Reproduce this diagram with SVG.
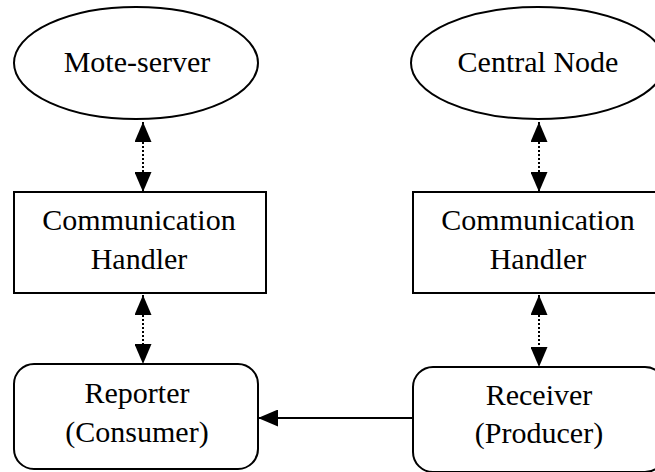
<svg xmlns="http://www.w3.org/2000/svg" width="655" height="472" viewBox="0 0 655 472">
<defs>
<marker id="ah" markerWidth="20" markerHeight="17" refX="20" refY="8.5" orient="auto" markerUnits="userSpaceOnUse">
<path d="M0,0 L20,8.5 L0,17 Z" fill="#000"/>
</marker>
<marker id="ahs" markerWidth="20" markerHeight="17" refX="20" refY="8.5" orient="auto-start-reverse" markerUnits="userSpaceOnUse">
<path d="M0,0 L20,8.5 L0,17 Z" fill="#000"/>
</marker>
</defs>
<rect width="655" height="472" fill="#fff"/>
<g fill="#fff" stroke="#000" stroke-width="2">
<g id="mote-server"><ellipse cx="136" cy="63" rx="122" ry="56"/></g>
<g id="central-node"><ellipse cx="538" cy="63" rx="127" ry="56"/></g>
<g id="comm-handler-left"><rect x="14" y="192" width="252" height="101"/></g>
<g id="comm-handler-right"><rect x="413" y="192" width="252" height="101"/></g>
<g id="reporter"><rect x="14" y="364" width="244" height="105" rx="20" ry="20"/></g>
<g id="receiver"><rect x="413" y="367" width="252" height="105" rx="20" ry="20"/></g>
</g>
<text x="137" y="72" font-size="30" font-family="Liberation Serif" text-anchor="middle">Mote-server</text>
<text x="538" y="72" font-size="30" font-family="Liberation Serif" text-anchor="middle">Central Node</text>
<text x="139" y="230" font-size="30" font-family="Liberation Serif" text-anchor="middle">Communication</text>
<text x="139" y="269" font-size="30" font-family="Liberation Serif" text-anchor="middle">Handler</text>
<text x="538" y="230" font-size="30" font-family="Liberation Serif" text-anchor="middle">Communication</text>
<text x="538" y="269" font-size="30" font-family="Liberation Serif" text-anchor="middle">Handler</text>
<text x="137" y="403" font-size="30" font-family="Liberation Serif" text-anchor="middle">Reporter</text>
<text x="137" y="442" font-size="30" font-family="Liberation Serif" text-anchor="middle">(Consumer)</text>
<text x="539" y="405" font-size="30" font-family="Liberation Serif" text-anchor="middle">Receiver</text>
<text x="539" y="443" font-size="30" font-family="Liberation Serif" text-anchor="middle">(Producer)</text>
<g id="connectors" stroke="#000" stroke-width="2" fill="none">
<line x1="143" y1="122" x2="143" y2="192" stroke-dasharray="2 2" marker-start="url(#ahs)" marker-end="url(#ah)"/>
<line x1="539" y1="122" x2="539" y2="192" stroke-dasharray="2 2" marker-start="url(#ahs)" marker-end="url(#ah)"/>
<line x1="143" y1="295" x2="143" y2="364" stroke-dasharray="2 2" marker-start="url(#ahs)" marker-end="url(#ah)"/>
<line x1="539" y1="295" x2="539" y2="367" stroke-dasharray="2 2" marker-start="url(#ahs)" marker-end="url(#ah)"/>
<line x1="413" y1="418" x2="258" y2="418" marker-end="url(#ah)"/>
</g>
</svg>
